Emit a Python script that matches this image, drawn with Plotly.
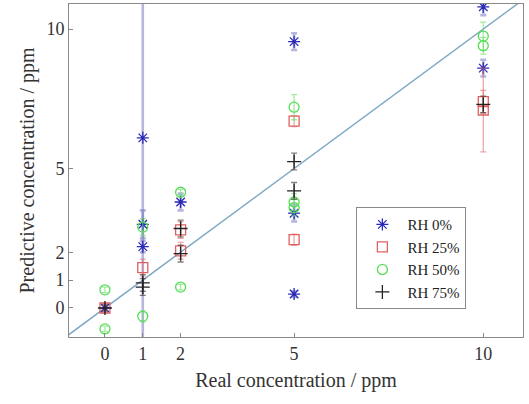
import plotly.graph_objects as go

# ---- data ----
rh0_x = [0, 1, 1, 1, 2, 5, 5, 5, 10, 10]
rh0_y = [0.0, 6.1, 3.0, 2.2, 3.8, 9.55, 3.4, 0.5, 10.8, 8.6]
rh0_e = [0.15, 7.5, 0.5, 0.2, 0.3, 0.3, 0.3, 0.1, 0.3, 0.3]

rh25_x = [0, 1, 2, 2, 5, 5, 10, 10]
rh25_y = [0.0, 1.45, 2.8, 2.05, 6.7, 2.45, 7.4, 7.1]
rh25_e = [0.1, 0.3, 0.3, 0.3, 0.2, 0.2, 0.4, 1.5]

rh50_x = [0, 0, 1, 1, 2, 2, 5, 5, 5, 10, 10]
rh50_y = [0.65, -0.75, 2.9, -0.3, 4.15, 0.75, 7.2, 3.8, 3.6, 9.75, 9.4]
rh50_e = [0.1, 0.1, 0.3, 0.2, 0.1, 0.1, 0.45, 0.3, 0.3, 0.5, 0.3]

rh75_x = [0, 1, 1, 2, 2, 5, 5, 10]
rh75_y = [0.0, 0.9, 0.75, 2.85, 1.95, 5.25, 4.2, 7.3]
rh75_e = [0.1, 0.3, 0.3, 0.3, 0.3, 0.3, 0.3, 0.3]

tick_vals = [0, 1, 2, 5, 10]
tick_text = ["0", "1", "2", "5", "10"]
diag = [-1, 12]

series = [
    ("RH 0%", rh0_x, rh0_y, rh0_e, "asterisk-open", "#2a2ab8", "rgba(110,110,190,0.5)"),
    ("RH 25%", rh25_x, rh25_y, rh25_e, "square-open", "#e06060", "rgba(225,110,110,0.6)"),
    ("RH 50%", rh50_x, rh50_y, rh50_e, "circle-open", "#55dd55", "rgba(100,220,100,0.6)"),
    ("RH 75%", rh75_x, rh75_y, rh75_e, "cross-thin-open", "#222222", "rgba(60,40,40,0.6)"),
]

fig = go.Figure()
fig.add_trace(go.Scatter(x=diag, y=diag, mode="lines",
                         line=dict(color="#7fa8c4", width=1.5),
                         showlegend=False, hoverinfo="skip"))
for name, xs, ys, es, sym, col, ecol in series:
    fig.add_trace(go.Scatter(
        x=xs, y=ys, mode="markers", name=name,
        marker=dict(symbol=sym, size=10, color=col, line=dict(width=1.3, color=col)),
        error_y=dict(type="data", array=es, visible=True, color=ecol,
                     thickness=2.6 if name == "RH 0%" else 1.3, width=3),
    ))

font = "Liberation Serif, Times New Roman, serif"
axis_common = dict(showline=True, linecolor="#888888", linewidth=1, mirror=True,
                   ticks="inside", ticklen=4, tickcolor="#888888",
                   showgrid=False, zeroline=False,
                   tickfont=dict(family=font, size=18, color="#333333"))
fig.update_layout(
    width=529, height=404,
    margin=dict(l=69, r=6, t=4, b=67),
    paper_bgcolor="white", plot_bgcolor="white",
    xaxis=dict(range=[-0.95, 11.05], tickvals=tick_vals, ticktext=tick_text,
               title=dict(text="Real concentration / ppm", standoff=10,
                          font=dict(family=font, size=20, color="#333333")),
               **axis_common),
    yaxis=dict(range=[-1.04, 10.9], tickvals=tick_vals, ticktext=tick_text,
               title=dict(text="Predictive concentration / ppm", standoff=6,
                          font=dict(family=font, size=20, color="#333333")),
               **axis_common),
    legend=dict(x=0.633, y=0.39, xanchor="left", yanchor="top",
                bgcolor="white", bordercolor="#888888", borderwidth=1,
                font=dict(family=font, size=15, color="#222222"),
                itemwidth=40, tracegroupgap=0),
)
fig.write_html("out.html")
